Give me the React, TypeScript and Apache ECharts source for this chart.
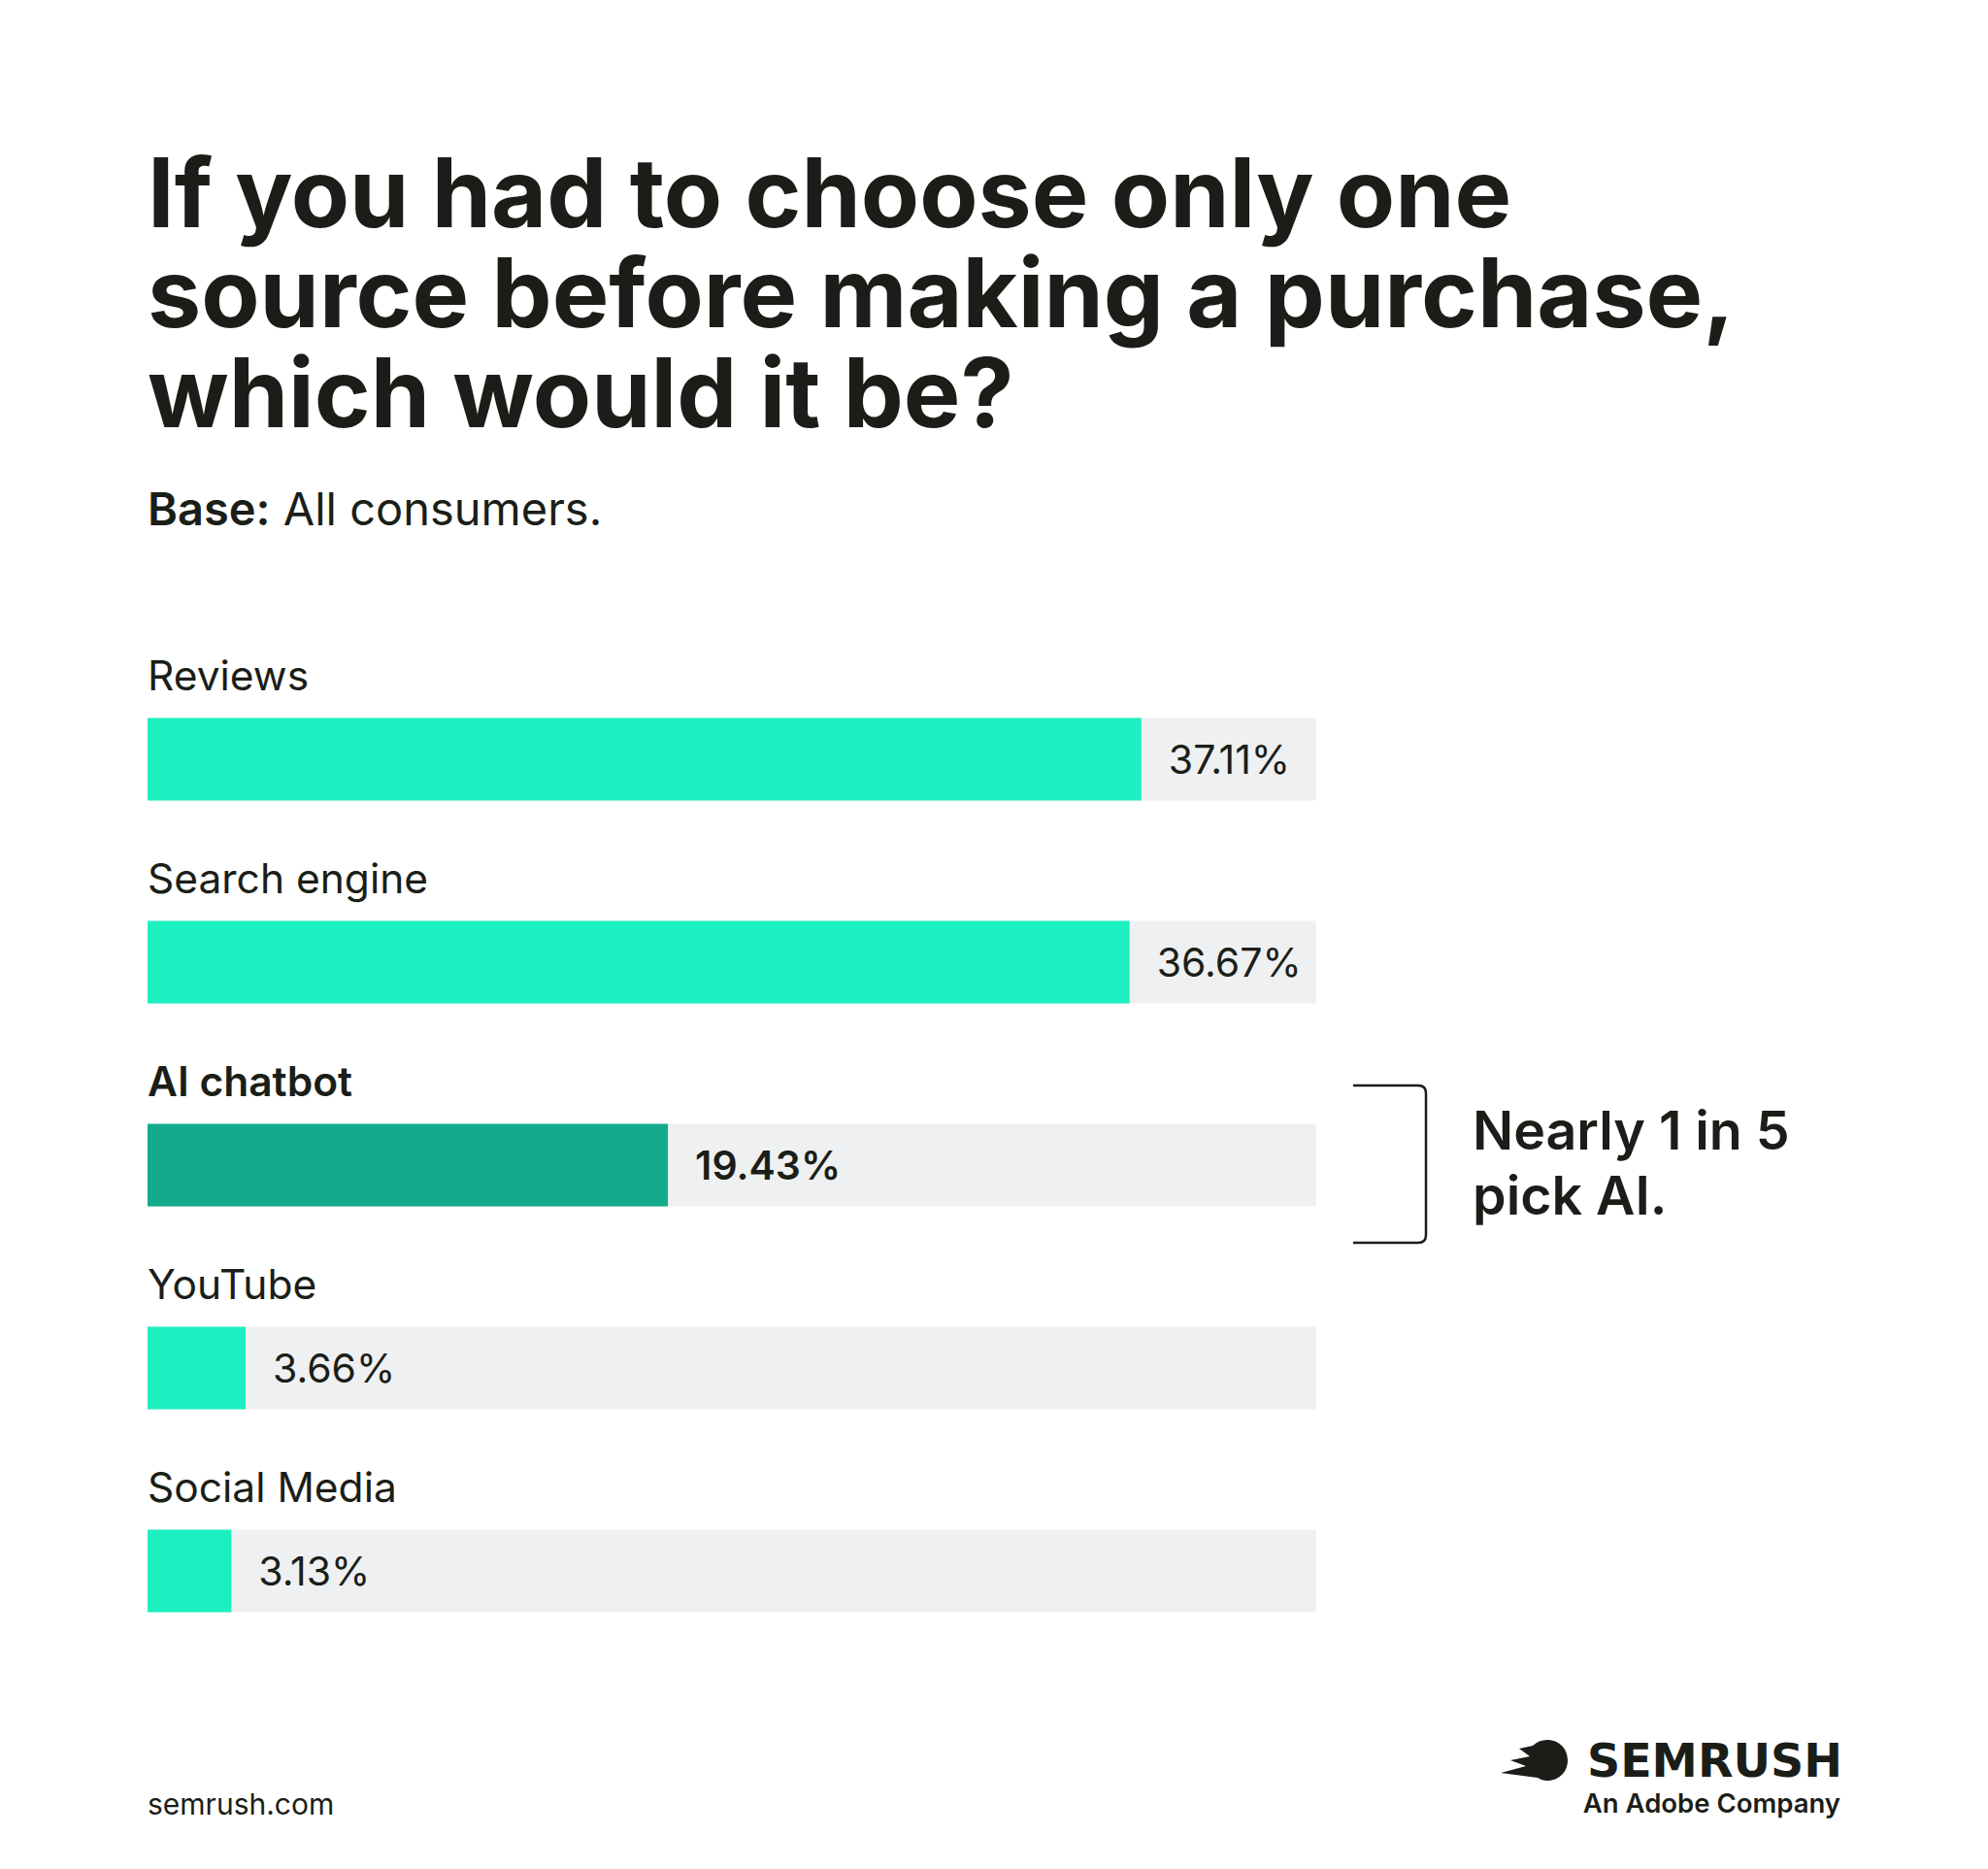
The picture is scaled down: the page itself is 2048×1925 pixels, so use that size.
import React, { useEffect, useRef } from "react";
import * as echarts from "echarts";

const categories = ["Reviews", "Search engine", "AI chatbot", "YouTube", "Social Media"];
const values = [37.11, 36.67, 19.43, 3.66, 3.13];
const highlightIndex = 2;
const axisMax = 43.64;

const titleLines = [
  "If you had to choose only one",
  "source before making a purchase,",
  "which would it be?",
];
const annotationText = "Nearly 1 in 5\npick AI.";

const TEAL = "#1DF0C0";
const TEAL_DARK = "#12AA8A";
const TRACK = "#EFF0F2";
const INK = "#1B1E18";
const FONT = "Inter, 'Noto Sans', sans-serif";

echarts.graphic.registerShape(
  "semrushComet",
  echarts.graphic.extendPath(
    "M48 0C60 0 69 9 69 21C69 33 60 42 48 42C44 42 41 41 38 39L0 34L26 27L10 21L30 17L19 9L33 6C37 2 42 0 48 0Z",
    {}
  )
);
echarts.graphic.registerShape(
  "bracketShape",
  echarts.graphic.extendPath("M0 0L67 0Q75 0 75 8L75 154Q75 162 67 162L0 162", {})
);

export default function App() {
  const ref = useRef<HTMLDivElement>(null);

  useEffect(() => {
    if (!ref.current) return;
    const chart = echarts.init(ref.current, undefined, { renderer: "svg" });
    const barHalf = 85 / 2;

    const titleGraphics = titleLines.map((line, i) => ({
      type: "text",
      x: 152,
      y: 198.5 + i * 103,
      style: {
        text: line,
        fontFamily: FONT,
        fontSize: 98.5,
        fontWeight: 700,
        fill: INK,
        textAlign: "left",
        textVerticalAlign: "middle",
        align: "left",
        verticalAlign: "middle",
      },
    }));

    chart.setOption({
      animation: false,
      backgroundColor: "#ffffff",
      grid: { left: 152, right: 692, top: 677.5, bottom: 202.5, containLabel: false },
      xAxis: {
        type: "value",
        min: 0,
        max: axisMax,
        show: false,
        splitLine: { show: false },
      },
      yAxis: {
        type: "category",
        data: categories,
        inverse: true,
        show: false,
      },
      series: [
        {
          type: "bar",
          barWidth: 85,
          showBackground: true,
          backgroundStyle: { color: TRACK },
          data: values.map((v, i) => ({
            value: v,
            itemStyle: { color: i === highlightIndex ? TEAL_DARK : TEAL },
            label: {
              fontWeight: i === highlightIndex ? 600 : 400,
            },
          })),
          label: {
            show: true,
            position: "right",
            distance: 28,
            formatter: (p: any) => `${Number(p.value).toFixed(2)}%`,
            fontFamily: FONT,
            fontSize: 41,
            color: INK,
          },
        },
        {
          type: "custom",
          clip: false,
          data: categories.map((_, i) => [0, i]),
          renderItem: (params: any, api: any) => {
            const idx = params.dataIndex;
            const pt = api.coord([0, idx]);
            return {
              type: "text",
              x: pt[0],
              y: pt[1] - barHalf - 44,
              style: {
                text: categories[idx],
                fontFamily: FONT,
                fontSize: 42.5,
                fontWeight: idx === highlightIndex ? 600 : 400,
                fill: INK,
                textAlign: "left",
                textVerticalAlign: "middle",
                align: "left",
                verticalAlign: "middle",
              },
            };
          },
        },
      ],
      graphic: [
        ...titleGraphics,
        {
          type: "text",
          left: 152,
          top: 500,
          style: {
            text: "{b|Base:}{r| All consumers.}",
            rich: {
              b: { fontFamily: FONT, fontSize: 47, fontWeight: 600, fill: INK, color: INK },
              r: { fontFamily: FONT, fontSize: 47, fontWeight: 400, fill: INK, color: INK },
            },
            fill: INK,
          },
        },
        {
          type: "bracketShape",
          x: 1394,
          y: 1118,
          style: { fill: "none", stroke: INK, lineWidth: 2.5 },
        },
        {
          type: "text",
          left: 1517,
          top: 1130,
          style: {
            text: annotationText,
            fontFamily: FONT,
            fontSize: 55.5,
            fontWeight: 600,
            lineHeight: 67,
            fill: INK,
          },
        },
        {
          type: "text",
          left: 152,
          top: 1843,
          style: {
            text: "semrush.com",
            fontFamily: FONT,
            fontSize: 30,
            fontWeight: 400,
            fill: INK,
          },
        },
        {
          type: "semrushComet",
          x: 1546,
          y: 1792,
          style: { fill: INK },
        },
        {
          type: "text",
          right: 2048 - 1898,
          top: 1789,
          style: {
            text: "SEMRUSH",
            fontFamily: "'DejaVu Sans', sans-serif",
            fontSize: 47.5,
            fontWeight: 700,
            fill: INK,
          },
        },
        {
          type: "text",
          right: 2048 - 1896,
          top: 1843,
          style: {
            text: "An Adobe Company",
            fontFamily: FONT,
            fontSize: 27.5,
            fontWeight: 600,
            fill: INK,
          },
        },
      ],
    });

    return () => chart.dispose();
  }, []);

  return (
    <div
      ref={ref}
      style={{ position: "absolute", left: 0, top: 0, width: 2048, height: 1925, background: "#fff" }}
    />
  );
}
